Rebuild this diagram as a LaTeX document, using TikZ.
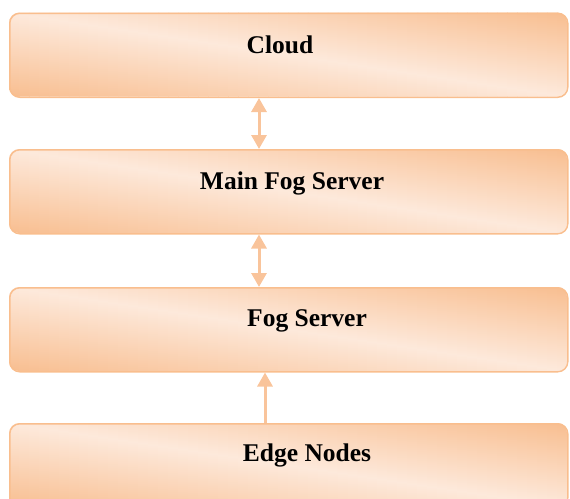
\documentclass[tikz,border=0pt]{standalone}
\usepackage{fontspec}
\setmainfont{Liberation Serif}
\usetikzlibrary{arrows.meta,calc}

\definecolor{peach}{RGB}{248,190,144}
\definecolor{peachlight}{RGB}{253,233,219}
\definecolor{peachedge}{RGB}{249,190,142}
\definecolor{linkcol}{RGB}{249,196,155}

% Diagonal wash inside a layer box: pale along the top-left/bottom-right
% diagonal, deeper peach towards the bottom-left and top-right corners.
% Built from thin vertical strips whose pale band slides down from left to right.
\newcommand\layerwash[2]{% #1 = left x, #2 = top y
  \begin{scope}
    \clip[rounded corners=10pt] (#1,#2) rectangle ++(558,84);
    \foreach \i in {0,...,55}{
      \pgfmathsetmacro\xl{#1+\i*9.9643}
      \pgfmathsetmacro\xr{\xl+10.56}
      \pgfmathsetmacro\yc{#2+(\i+0.5)*1.5}
      \shade[top color=peach, bottom color=peach, middle color=peachlight]
        (\xl,\yc-84) rectangle (\xr,\yc+84);
    }
  \end{scope}}

\tikzset{
  layer/.style={draw=peachedge, line width=1.5pt, rounded corners=10pt,
    minimum width=558pt, minimum height=84pt,
    inner sep=0pt, anchor=north west},
  layertext/.style={font=\bfseries\fontsize{25.5}{28}\selectfont, text=black, inner sep=0pt},
  link/.style={draw=linkcol, line width=3pt,
    -{Triangle[width=15pt,length=14pt]}},
  biglink/.style={link, {Triangle[width=15pt,length=14pt]}-{Triangle[width=15pt,length=14pt]}}
}

\begin{document}
\begin{tikzpicture}[x=1pt,y=-1pt]
  \useasboundingbox (0,0) rectangle (570,498);
  \clip (0,0) rectangle (570,498);

  % fills of the four layers
  \layerwash{9}{12.5}
  \layerwash{9}{149}
  \layerwash{9}{287}
  \layerwash{9}{423}

  % the four layers of the architecture
  \node[layer] (cloud) at (9,12.5) {};
  \node[layer] (mainfog) at (9,149) {};
  \node[layer] (fog) at (9,287) {};
  \node[layer] (edge) at (9,423) {};

  \node[layertext] (tcloud) at (280,45) {Cloud};
  \node[layertext] (tmainfog) at (292,183) {Main Fog Server};
  \node[layertext] (tfog) at (307,321) {Fog Server};
  \node[layertext] (tedge) at (307,455) {Edge Nodes};

  % links between layers
  \coordinate (xa) at (259,0);
  \coordinate (xb) at (265,0);
  \draw[biglink] (cloud.south -| xa) -- (mainfog.north -| xa);
  \draw[biglink] (mainfog.south -| xa) -- (fog.north -| xa);
  \draw[link] (edge.north -| xb) -- (fog.south -| xb);
\end{tikzpicture}
\end{document}
